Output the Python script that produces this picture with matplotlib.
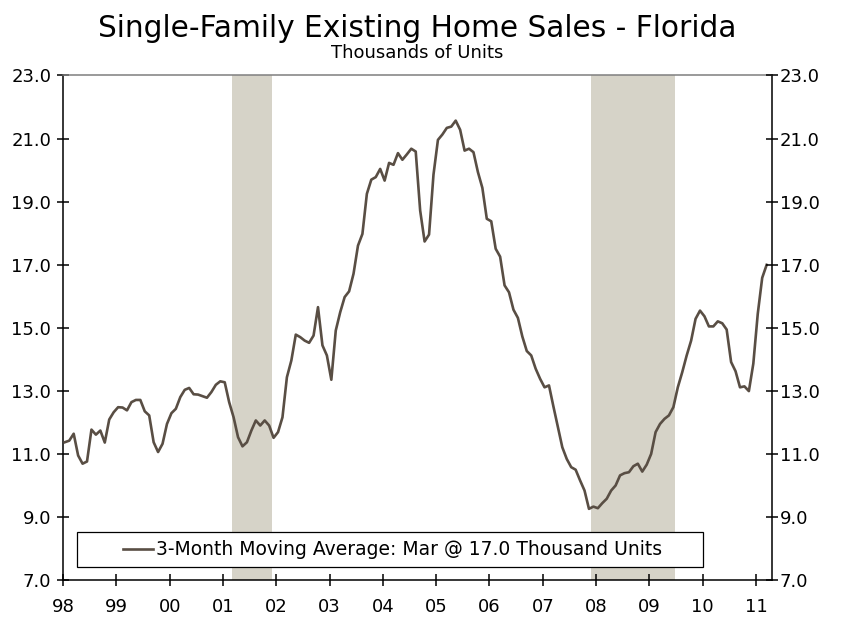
import numpy as np
import matplotlib
matplotlib.use('Agg')
import matplotlib.pyplot as plt
from matplotlib.patches import Rectangle

# 3-month moving average, thousands of units, Jan 1998 - Mar 2011
sales_1998 = [11.38, 11.43, 11.65, 10.96, 10.70, 10.77, 11.78, 11.62, 11.75, 11.37, 12.10, 12.33]
sales_1999 = [12.49, 12.48, 12.39, 12.65, 12.72, 12.72, 12.36, 12.23, 11.38, 11.07, 11.33, 11.96]
sales_2000 = [12.30, 12.44, 12.81, 13.04, 13.10, 12.90, 12.89, 12.84, 12.79, 12.97, 13.20, 13.31]
sales_2001 = [13.28, 12.65, 12.17, 11.54, 11.25, 11.38, 11.75, 12.07, 11.91, 12.07, 11.91, 11.52]
sales_2002 = [11.70, 12.17, 13.44, 13.97, 14.79, 14.71, 14.60, 14.53, 14.76, 15.66, 14.45, 14.13]
sales_2003 = [13.36, 14.92, 15.50, 15.98, 16.16, 16.72, 17.61, 17.98, 19.25, 19.70, 19.78, 20.04]
sales_2004 = [19.67, 20.23, 20.17, 20.54, 20.33, 20.50, 20.68, 20.59, 18.72, 17.74, 17.96, 19.86]
sales_2005 = [20.96, 21.13, 21.34, 21.38, 21.57, 21.28, 20.62, 20.68, 20.57, 19.94, 19.44, 18.46]
sales_2006 = [18.38, 17.51, 17.26, 16.35, 16.13, 15.58, 15.32, 14.73, 14.27, 14.13, 13.71, 13.39]
sales_2007 = [13.12, 13.18, 12.51, 11.86, 11.22, 10.85, 10.59, 10.51, 10.17, 9.85, 9.27, 9.34]
sales_2008 = [9.29, 9.45, 9.59, 9.85, 10.01, 10.33, 10.40, 10.43, 10.62, 10.70, 10.45, 10.67]
sales_2009 = [11.01, 11.70, 11.96, 12.12, 12.23, 12.49, 13.12, 13.60, 14.13, 14.60, 15.29, 15.55]
sales_2010 = [15.37, 15.05, 15.05, 15.21, 15.15, 14.95, 13.92, 13.63, 13.12, 13.15, 13.00, 13.87]
sales_2011 = [15.45, 16.59, 17.00]

# recessions (fractional years)
recessions = [(2001.167, 2001.917), (2007.90, 2009.48)]

years = list(range(1998, 2012))
year_labels = ['98', '99', '00', '01', '02', '03', '04', '05', '06', '07', '08', '09', '10', '11']
y_ticks = [7.0, 9.0, 11.0, 13.0, 15.0, 17.0, 19.0, 21.0, 23.0]

legend_label = '3-Month Moving Average: Mar @ 17.0 Thousand Units'

def main():
    sales = (sales_1998 + sales_1999 + sales_2000 + sales_2001 + sales_2002 + sales_2003 + sales_2004
             + sales_2005 + sales_2006 + sales_2007 + sales_2008 + sales_2009 + sales_2010 + sales_2011)
    x = 1998 + (np.arange(len(sales)) + 0.4) / 12.0

    fig = plt.figure(figsize=(8.46, 6.27), dpi=100)
    ax = fig.add_axes([0.0745, 0.0742, 0.838, 0.8054])

    for start, end in recessions:
        ax.axvspan(start, end, color='#d6d3c8', lw=0, zorder=0)

    ax.plot(x, sales, color='#594e44', lw=1.9, label=legend_label, zorder=3)

    ax.set_xlim(1998, 2011.3)
    ax.set_ylim(7, 23)
    ax.set_xticks(years)
    ax.set_xticklabels(year_labels)
    ax.set_yticks(y_ticks)
    ax.set_yticklabels(['%.1f' % v for v in y_ticks])

    for s in ['left', 'bottom', 'right']:
        ax.spines[s].set_color('black')
        ax.spines[s].set_linewidth(1.1)
    ax.spines['top'].set_color('#7f7f7f')
    ax.spines['top'].set_linewidth(1.1)

    ax.tick_params(axis='x', direction='inout', length=9, width=1.1, pad=8, labelsize=13)
    ax.tick_params(axis='y', direction='inout', length=9, width=1.1, pad=4, labelsize=13)

    # right hand axis copy
    ax2 = ax.twinx()
    ax2.set_ylim(7, 23)
    ax2.set_yticks(y_ticks)
    ax2.set_yticklabels(['%.1f' % v for v in y_ticks])
    ax2.tick_params(axis='y', direction='inout', length=9, width=1.1, pad=1, labelsize=13)
    for s in ax2.spines.values():
        s.set_visible(False)

    # legend box
    box = Rectangle((0.0197, 0.0267), 0.883, 0.0693, transform=ax.transAxes,
                    facecolor='white', edgecolor='black', lw=0.9, zorder=4)
    ax.add_patch(box)
    leg = ax.legend(loc='center', bbox_to_anchor=(0.465, 0.061), frameon=False,
                    fontsize=13.5, handlelength=1.6, handletextpad=0.15)
    leg.set_zorder(5)

    fig.text(0.4935, 0.955, 'Single-Family Existing Home Sales - Florida', ha='center', va='center',
             fontsize=21.3)
    fig.text(0.4935, 0.915, 'Thousands of Units', ha='center', va='center', fontsize=13)

    fig.savefig('out.png', dpi=100)

if __name__ == '__main__':
    main()
